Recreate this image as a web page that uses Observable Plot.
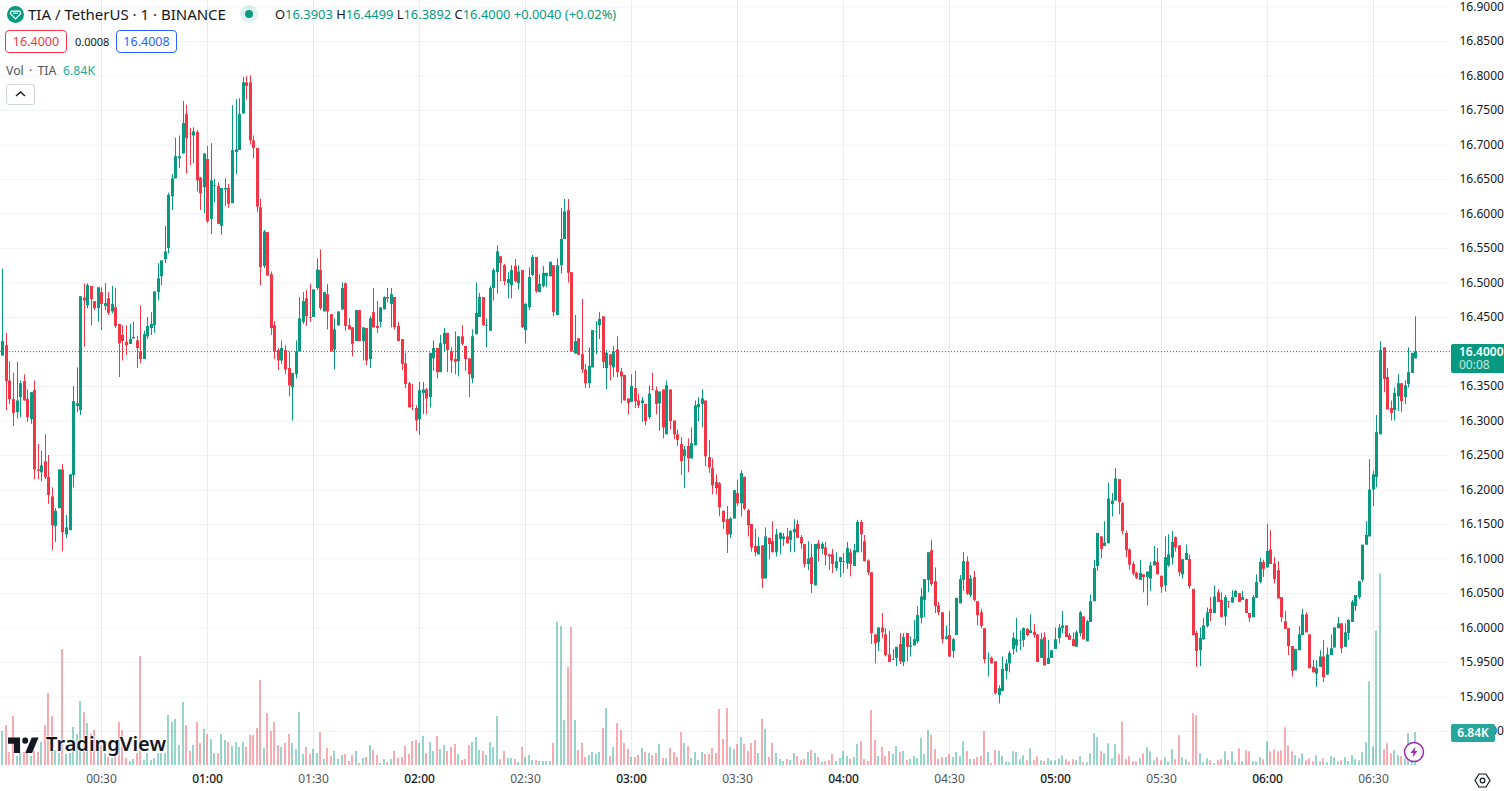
<!DOCTYPE html>
<html><head><meta charset="utf-8">
<script src="https://cdn.jsdelivr.net/npm/d3@7"></script>
<script src="https://cdn.jsdelivr.net/npm/@observablehq/plot@0.6"></script>
<style>
html,body{margin:0;padding:0;background:#fff;overflow:hidden}
body{font-family:"Noto Sans",sans-serif;color:#131722}
#wrap{position:relative;width:1504px;height:791px;overflow:hidden}
#wrap svg.plot{display:block;position:absolute;left:0;top:0}
.ov{position:absolute;white-space:nowrap;line-height:1}
.up{color:#089981}
.box{position:absolute;box-sizing:border-box;height:23px;top:30px;border:1px solid;border-radius:4px;font-size:12.5px;display:flex;align-items:center;justify-content:center;background:#fff}
</style></head><body><div id="wrap"></div>
<script>
const firstMinute = 2;
const opens = [
16.394,16.409,16.358,16.331,16.312,16.334,16.357,16.331,16.302,16.344,
16.229,16.225,16.241,16.218,16.19,16.147,16.173,16.229,16.135,16.141,
16.221,16.321,16.315,16.478,16.467,16.495,16.473,16.463,16.486,16.466,
16.477,16.458,16.464,16.44,16.424,16.414,16.411,16.419,16.416,16.40,
16.389,16.422,16.434,16.438,16.486,16.509,16.534,16.55,16.625,16.651,
16.68,16.687,16.744,16.716,16.713,16.718,16.652,16.638,16.679,16.592,
16.64,16.64,16.582,16.635,16.637,16.615,16.689,16.692,16.745,16.79,
16.79,16.706,16.695,16.609,16.524,16.573,16.512,16.438,16.402,16.387,
16.402,16.376,16.348,16.367,16.40,16.443,16.477,16.45,16.45,16.492,
16.518,16.458,16.483,16.454,16.403,16.438,16.461,16.499,16.438,16.435,
16.415,16.46,16.415,16.434,16.389,16.457,16.437,16.443,16.461,16.479,
16.469,16.479,16.437,16.418,16.383,16.354,16.322,16.318,16.302,16.34,
16.345,16.334,16.39,16.405,16.37,16.411,16.427,16.40,16.389,16.386,
16.422,16.408,16.39,16.361,16.425,16.45,16.479,16.437,16.43,16.492,
16.515,16.538,16.525,16.499,16.496,16.524,16.499,16.518,16.431,16.464,
16.511,16.537,16.486,16.495,16.509,16.509,16.525,16.453,16.525,16.563,
16.605,16.515,16.397,16.419,16.396,16.374,16.354,16.377,16.428,16.438,
16.451,16.376,16.396,16.377,16.403,16.371,16.366,16.332,16.327,16.347,
16.329,16.325,16.324,16.305,16.345,16.344,16.325,16.345,16.28,16.345,
16.30,16.28,16.266,16.248,16.263,16.245,16.264,16.319,16.324,16.329,
16.247,16.231,16.211,16.209,16.169,16.157,16.135,16.158,16.195,16.18,
16.218,16.17,16.15,16.118,16.106,16.119,16.071,16.13,16.125,16.109,
16.128,16.128,16.132,16.127,16.138,16.15,16.131,16.121,16.092,16.102,
16.061,16.122,16.114,16.116,16.106,16.106,16.086,16.095,16.095,16.093,
16.109,16.089,16.109,16.153,16.125,16.097,16.08,15.99,15.979,16.0,
15.99,15.961,15.953,15.956,15.976,15.95,15.992,15.972,15.974,15.98,
16.014,16.04,16.069,16.112,16.067,16.032,16.022,15.983,15.989,15.966,
15.989,16.035,16.069,16.096,16.047,16.073,16.038,16.022,15.999,15.955,
15.956,15.951,15.902,15.908,15.937,15.948,15.969,15.974,15.981,15.982,
15.998,15.992,15.994,15.99,15.956,15.986,15.947,15.956,15.969,15.985,
15.999,16.003,15.989,15.983,15.972,15.992,16.016,15.98,16.008,16.038,
16.089,16.132,16.118,16.122,16.179,16.184,16.215,16.18,16.137,16.113,
16.092,16.079,16.069,16.077,16.073,16.071,16.09,16.095,16.075,16.061,
16.09,16.101,16.131,16.119,16.077,16.098,16.099,16.056,15.992,15.967,
15.983,16.002,16.027,16.021,16.051,16.04,16.016,16.038,16.036,16.044,
16.05,16.04,16.041,16.021,16.015,16.043,16.066,16.095,16.087,16.113,
16.093,16.083,16.044,16.009,15.999,15.973,15.938,15.967,15.989,16.019,
15.99,15.943,15.933,15.943,15.958,15.932,15.96,15.971,15.999,16.006,
15.972,15.992,16.008,16.031,16.044,16.069,16.12,16.132,16.20,16.218,
16.28,16.406,16.363,16.318,16.315,16.335,16.354,16.334,16.353,16.369,16.39];
const closes = [
16.415,16.357,16.331,16.311,16.329,16.354,16.329,16.305,16.341,16.229,
16.227,16.235,16.218,16.192,16.148,16.169,16.229,16.138,16.145,16.222,
16.328,16.325,16.48,16.474,16.496,16.476,16.463,16.493,16.469,16.47,
16.456,16.469,16.437,16.412,16.415,16.409,16.418,16.421,16.405,16.389,
16.425,16.437,16.44,16.487,16.506,16.532,16.545,16.627,16.651,16.683,
16.683,16.731,16.709,16.715,16.719,16.648,16.629,16.687,16.589,16.648,
16.641,16.585,16.637,16.637,16.614,16.692,16.693,16.744,16.79,16.785,
16.706,16.695,16.61,16.522,16.574,16.51,16.434,16.40,16.387,16.405,
16.374,16.351,16.369,16.40,16.448,16.473,16.451,16.449,16.49,16.519,
16.463,16.486,16.458,16.40,16.432,16.458,16.492,16.437,16.432,16.411,
16.46,16.415,16.435,16.387,16.448,16.435,16.434,16.464,16.479,16.477,
16.483,16.435,16.415,16.382,16.353,16.319,16.321,16.30,16.344,16.345,
16.332,16.398,16.405,16.37,16.412,16.427,16.402,16.387,16.385,16.422,
16.411,16.389,16.367,16.422,16.456,16.479,16.438,16.438,16.492,16.518,
16.545,16.528,16.502,16.505,16.518,16.502,16.516,16.435,16.469,16.508,
16.537,16.487,16.498,16.514,16.514,16.53,16.457,16.525,16.563,16.603,
16.514,16.40,16.415,16.395,16.374,16.354,16.379,16.431,16.429,16.447,
16.385,16.398,16.38,16.40,16.37,16.364,16.329,16.325,16.35,16.328,
16.322,16.329,16.299,16.339,16.344,16.324,16.342,16.29,16.351,16.299,
16.28,16.272,16.241,16.258,16.245,16.267,16.322,16.324,16.332,16.248,
16.232,16.206,16.202,16.174,16.153,16.135,16.158,16.199,16.18,16.224,
16.172,16.148,16.116,16.109,16.118,16.071,16.132,16.121,16.109,16.135,
16.137,16.132,16.122,16.14,16.143,16.13,16.122,16.092,16.10,16.063,
16.121,16.114,16.121,16.105,16.103,16.092,16.096,16.102,16.096,16.115,
16.092,16.112,16.153,16.135,16.096,16.08,15.992,15.977,16.0,15.993,
15.96,15.95,15.954,15.972,15.951,15.986,15.972,15.974,15.983,16.018,
16.045,16.07,16.109,16.063,16.031,16.022,15.983,15.987,15.958,15.983,
16.043,16.07,16.096,16.049,16.071,16.04,16.018,16.002,15.954,15.956,
15.948,15.905,15.912,15.94,15.948,15.963,15.985,15.983,15.982,15.999,
15.989,15.996,15.989,15.95,15.983,15.945,15.956,15.967,15.983,16.0,
16.003,15.986,15.982,15.973,15.993,16.022,15.983,16.009,16.038,16.086,
16.137,16.114,16.123,16.187,16.184,16.216,16.182,16.14,16.112,16.091,
16.078,16.072,16.079,16.073,16.081,16.09,16.096,16.077,16.059,16.102,
16.106,16.124,16.116,16.08,16.099,16.108,16.06,15.989,15.966,15.985,
16.003,16.022,16.021,16.045,16.037,16.015,16.044,16.037,16.044,16.053,
16.037,16.044,16.021,16.014,16.044,16.066,16.095,16.085,16.111,16.092,
16.07,16.042,16.015,15.998,15.973,15.937,15.969,15.99,16.019,15.993,
15.941,15.935,15.941,15.958,15.928,15.961,15.97,16.0,16.006,15.97,
15.993,16.011,16.037,16.047,16.067,16.12,16.134,16.20,16.222,16.283,
16.402,16.36,16.316,16.311,16.34,16.354,16.328,16.351,16.37,16.398,16.40];
const highs = [
16.52,16.427,16.386,16.369,16.385,16.358,16.367,16.345,16.341,16.358,
16.266,16.256,16.28,16.25,16.203,16.173,16.229,16.237,16.163,16.222,
16.35,16.377,16.48,16.498,16.499,16.495,16.473,16.493,16.493,16.499,
16.486,16.495,16.492,16.44,16.438,16.438,16.44,16.443,16.422,16.467,
16.43,16.45,16.457,16.487,16.528,16.532,16.582,16.63,16.657,16.71,
16.713,16.763,16.758,16.724,16.725,16.721,16.653,16.687,16.698,16.702,
16.65,16.645,16.637,16.651,16.643,16.757,16.766,16.767,16.798,16.799,
16.80,16.713,16.695,16.621,16.576,16.573,16.516,16.444,16.405,16.416,
16.409,16.40,16.369,16.416,16.479,16.486,16.489,16.498,16.49,16.535,
16.548,16.486,16.498,16.454,16.448,16.458,16.50,16.50,16.448,16.435,
16.46,16.46,16.435,16.434,16.451,16.492,16.473,16.464,16.48,16.492,
16.492,16.479,16.443,16.418,16.398,16.356,16.353,16.322,16.356,16.356,
16.347,16.398,16.416,16.405,16.424,16.434,16.427,16.406,16.429,16.422,
16.438,16.408,16.39,16.432,16.50,16.485,16.479,16.448,16.495,16.521,
16.554,16.538,16.527,16.515,16.525,16.534,16.525,16.518,16.47,16.522,
16.54,16.537,16.512,16.524,16.514,16.53,16.525,16.535,16.608,16.621,
16.621,16.515,16.453,16.419,16.476,16.382,16.406,16.431,16.444,16.457,
16.451,16.402,16.396,16.408,16.422,16.376,16.366,16.332,16.367,16.372,
16.339,16.334,16.324,16.351,16.369,16.349,16.342,16.345,16.358,16.345,
16.30,16.287,16.276,16.263,16.274,16.29,16.329,16.334,16.345,16.329,
16.272,16.245,16.222,16.211,16.17,16.176,16.16,16.199,16.214,16.228,
16.219,16.172,16.15,16.143,16.131,16.119,16.145,16.13,16.154,16.143,
16.138,16.137,16.144,16.141,16.157,16.156,16.134,16.121,16.125,16.121,
16.121,16.127,16.124,16.124,16.106,16.114,16.109,16.102,16.108,16.124,
16.114,16.121,16.156,16.156,16.134,16.099,16.08,15.99,16.0,16.021,
15.999,15.995,15.969,15.972,15.992,15.992,15.992,15.987,16.011,16.031,
16.057,16.07,16.109,16.127,16.087,16.037,16.022,16.003,16.024,15.985,
16.043,16.076,16.109,16.103,16.076,16.082,16.038,16.027,15.999,15.964,
15.958,15.951,15.916,15.958,15.954,15.966,15.993,16.014,15.996,16.0,
15.999,16.019,16.005,15.99,15.992,15.993,15.982,15.967,16.0,16.005,
16.024,16.003,15.992,15.993,15.996,16.024,16.016,16.011,16.048,16.098,
16.137,16.132,16.154,16.21,16.195,16.231,16.215,16.182,16.14,16.115,
16.096,16.081,16.098,16.077,16.081,16.095,16.118,16.115,16.075,16.132,
16.135,16.14,16.132,16.119,16.099,16.12,16.106,16.056,15.995,16.0,
16.014,16.029,16.044,16.061,16.055,16.051,16.047,16.038,16.054,16.054,
16.05,16.053,16.042,16.021,16.047,16.077,16.101,16.098,16.15,16.141,
16.102,16.096,16.044,16.024,15.999,15.973,15.969,16.002,16.027,16.022,
15.99,15.953,15.953,15.967,15.982,15.971,15.99,16.0,16.015,16.006,
16.006,16.012,16.04,16.047,16.067,16.12,16.154,16.244,16.227,16.308,
16.415,16.406,16.376,16.329,16.348,16.367,16.354,16.358,16.406,16.398,16.451];
const lows = [
16.394,16.315,16.324,16.292,16.303,16.305,16.329,16.298,16.295,16.215,
16.215,16.212,16.215,16.179,16.112,16.124,16.173,16.11,16.13,16.141,
16.203,16.312,16.308,16.407,16.463,16.438,16.46,16.443,16.431,16.46,
16.453,16.455,16.434,16.363,16.387,16.395,16.411,16.419,16.376,16.383,
16.389,16.418,16.424,16.427,16.474,16.496,16.528,16.542,16.605,16.651,
16.666,16.687,16.658,16.67,16.673,16.632,16.605,16.60,16.586,16.57,
16.616,16.585,16.569,16.611,16.608,16.615,16.657,16.692,16.745,16.765,
16.70,16.68,16.602,16.496,16.521,16.51,16.424,16.389,16.373,16.382,
16.367,16.335,16.30,16.361,16.40,16.44,16.437,16.443,16.45,16.489,
16.46,16.458,16.432,16.40,16.374,16.437,16.46,16.43,16.432,16.393,
16.415,16.415,16.387,16.38,16.376,16.435,16.427,16.435,16.461,16.471,
16.435,16.432,16.415,16.373,16.347,16.319,16.315,16.285,16.279,16.309,
16.309,16.319,16.372,16.361,16.37,16.399,16.37,16.369,16.367,16.364,
16.409,16.372,16.334,16.354,16.425,16.45,16.438,16.406,16.43,16.474,
16.484,16.502,16.496,16.477,16.477,16.50,16.49,16.434,16.412,16.46,
16.509,16.485,16.486,16.493,16.493,16.509,16.451,16.453,16.513,16.563,
16.50,16.40,16.397,16.395,16.369,16.347,16.347,16.377,16.396,16.418,
16.376,16.345,16.358,16.363,16.363,16.325,16.329,16.309,16.327,16.318,
16.318,16.298,16.293,16.302,16.344,16.309,16.285,16.274,16.28,16.287,
16.273,16.263,16.221,16.202,16.225,16.245,16.264,16.299,16.29,16.234,
16.224,16.193,16.193,16.161,16.143,16.108,16.13,16.158,16.176,16.161,
16.17,16.132,16.11,16.103,16.106,16.057,16.071,16.099,16.109,16.103,
16.106,16.118,16.122,16.109,16.109,16.13,16.114,16.087,16.083,16.05,
16.061,16.096,16.106,16.09,16.083,16.079,16.082,16.073,16.079,16.085,
16.074,16.089,16.109,16.109,16.096,16.076,15.976,15.948,15.966,15.985,
15.958,15.95,15.953,15.944,15.947,15.944,15.951,15.958,15.974,15.977,
16.006,16.015,16.051,16.06,16.021,16.018,15.977,15.983,15.957,15.956,
15.989,16.035,16.053,16.047,16.044,16.038,16.003,15.999,15.948,15.929,
15.948,15.903,15.89,15.908,15.925,15.935,15.961,15.964,15.967,15.972,
15.987,15.992,15.985,15.95,15.956,15.945,15.947,15.956,15.969,15.977,
15.992,15.986,15.982,15.973,15.972,15.987,15.983,15.98,16.008,16.038,
16.082,16.10,16.118,16.122,16.161,16.184,16.164,16.135,16.102,16.084,
16.075,16.07,16.069,16.051,16.032,16.053,16.09,16.077,16.05,16.052,
16.088,16.091,16.11,16.074,16.071,16.098,16.056,15.989,15.943,15.944,
15.982,16.0,16.009,16.021,16.037,16.015,16.003,16.028,16.036,16.044,
16.037,16.04,16.021,16.008,16.015,16.043,16.064,16.073,16.087,16.092,
16.064,16.042,16.008,15.998,15.96,15.929,15.938,15.967,15.989,15.993,
15.941,15.935,15.914,15.943,15.921,15.931,15.96,15.971,15.999,15.963,
15.972,15.982,16.008,16.024,16.041,16.066,16.12,16.132,16.176,16.203,
16.28,16.341,16.316,16.30,16.30,16.314,16.312,16.324,16.348,16.369,16.39];
const volumesK = [
7.05,8.29,2.70,10.16,1.87,2.49,2.70,2.49,1.87,2.90,
2.70,4.77,8.29,14.93,10.16,3.11,2.49,24.05,2.28,2.49,
7.88,6.43,13.27,10.99,8.71,6.57,7.26,4.15,4.15,2.42,
1.73,1.45,2.07,8.91,7.26,1.45,0.83,1.24,2.49,22.6,
1.04,2.49,1.04,1.45,2.49,2.49,2.49,10.37,8.91,9.54,
4.15,13.06,8.29,2.90,4.15,8.91,4.56,7.46,6.43,5.39,
2.49,2.49,6.43,5.18,4.77,3.94,4.77,3.73,4.77,3.73,
6.22,6.22,7.67,17.62,3.52,10.78,7.05,8.91,4.15,3.73,
4.56,6.43,4.56,3.32,10.99,2.28,3.73,2.28,3.32,2.49,
6.84,1.24,3.52,1.87,2.90,1.24,2.07,2.28,0.83,2.07,
2.90,0.41,1.45,1.66,4.15,3.11,2.07,0.41,1.24,0.62,
1.24,2.90,1.45,1.66,3.94,2.28,4.98,5.18,4.56,6.01,
2.49,4.77,2.90,6.01,3.32,4.15,2.90,3.73,4.35,2.28,
1.04,1.24,4.15,4.77,5.81,3.11,2.90,2.07,4.77,3.73,
10.16,1.17,2.90,1.45,1.45,1.24,0.62,3.73,1.66,2.07,
1.04,1.04,0.83,0.83,0.83,0.83,4.56,29.65,28.82,9.33,
20.32,28.61,9.33,3.11,4.56,1.66,2.07,2.70,2.28,2.70,
7.67,11.82,1.87,3.73,8.71,7.26,4.56,3.32,1.66,1.66,
2.07,3.52,2.70,2.49,2.07,2.49,4.35,1.45,1.45,3.52,
2.70,1.66,6.84,4.56,3.94,1.45,2.70,1.04,2.70,2.28,
2.28,3.52,2.49,11.61,5.39,11.82,3.73,3.32,4.35,5.81,
4.35,2.90,4.56,5.18,2.49,9.54,7.46,1.66,4.56,2.49,
1.24,0.83,1.24,1.04,2.49,1.87,1.04,1.24,2.70,3.11,
2.49,1.66,0.62,0.83,1.04,2.28,0.83,1.45,2.90,1.87,
1.24,1.66,4.35,4.98,1.24,0.83,11.40,5.18,1.87,3.73,
1.87,2.90,2.28,3.94,2.70,2.90,1.04,1.24,1.87,1.45,
5.60,2.28,7.26,6.22,3.32,1.24,1.66,1.66,2.28,1.66,
2.70,1.87,4.98,2.90,1.24,1.24,1.66,1.87,7.05,2.70,
0.41,3.11,2.90,1.93,0.69,0.55,2.83,2.70,1.17,2.00,
0.97,3.46,0.97,1.80,0.97,0.76,1.38,0.97,0.97,1.38,
2.00,1.17,0.76,1.17,0.97,1.80,0.55,0.55,2.42,6.57,
5.74,2.83,2.42,4.49,1.38,4.28,2.21,9.05,1.17,1.80,
0.76,0.76,1.38,2.42,3.66,2.83,0.97,1.59,0.97,1.59,
0.76,3.25,1.17,6.15,1.59,1.17,0.55,10.71,10.30,2.42,
0.55,1.38,0.97,0.35,0.97,1.17,2.83,0.97,2.83,0.55,
3.46,0.76,3.04,2.83,0.76,0.76,1.59,1.17,4.91,2.83,
3.25,2.83,3.04,7.81,4.08,2.83,2.00,1.38,2.42,0.97,
1.38,0.76,2.00,0.76,1.38,0.55,1.80,1.59,0.76,0.97,
1.59,0.76,2.00,1.17,0.97,2.63,4.70,17.35,3.87,27.92,
39.74,3.25,4.49,2.42,3.04,2.00,1.80,1.38,6.57,0.97,6.84];
const halfHourTicks = [30,90,150,210,270,330,390];
const hourTicks = [60,120,180,240,300,360];
const priceGrid = [15.85,15.9,15.95,16,16.05,16.1,16.15,16.2,16.25,16.3,16.35,16.4,16.45,16.5,16.55,16.6,16.65,16.7,16.75,16.8,16.85,16.9];
const lastPrice = 16.40;
const priceLabels = priceGrid.filter(p => p !== lastPrice);

// volume pane shares the price scale: this is how much price one K of volume spans
const paneFloor = 15.8007, priceTop = 16.9094, pricePerK = 0.006986;
const minuteDomain = [1.32, 411.82];

if (new Set([opens.length,closes.length,highs.length,lows.length,volumesK.length]).size !== 1)
  throw new Error("len "+[opens.length,closes.length,highs.length,lows.length,volumesK.length]);

const bars = opens.map((o,i)=>({minute:firstMinute+i,o,c:closes[i],h:highs[i],l:lows[i],v:volumesK[i],
  dir:closes[i]>=o?"up":"down"}));
const hhmm = m => d3.format("02")(Math.floor(m/60))+":"+d3.format("02")(m%60);

const chart = Plot.plot({
  width:1504,height:791,marginLeft:0,marginRight:54,marginTop:0,marginBottom:26,
  style:{background:"transparent",fontFamily:'"Noto Sans",sans-serif'},
  x:{domain:minuteDomain,round:true},
  y:{domain:[paneFloor,priceTop]},
  color:{domain:["up","down"],range:["#089981","#f23645"]},
  marks:[
    Plot.gridY(priceGrid,{stroke:"#f0f3fa",strokeOpacity:1}),
    Plot.gridX(halfHourTicks.concat(hourTicks),{stroke:"#ebebef",strokeOpacity:1}),
    Plot.ruleX(bars,{x:"minute",y1:paneFloor,y2:d=>paneFloor+d.v*pricePerK,stroke:"dir",strokeOpacity:.42,strokeWidth:2,dx:-.5}),
    Plot.ruleX(bars,{x:"minute",y1:"l",y2:"h",stroke:"dir",strokeWidth:1}),
    Plot.ruleX(bars,{x:"minute",y1:"o",y2:"c",stroke:"dir",strokeWidth:3}),
    Plot.ruleY([lastPrice],{stroke:"#089981",strokeWidth:1,strokeDasharray:"1 2",dy:-.5}),
    Plot.axisY(priceLabels,{anchor:"right",tickSize:0,tickPadding:9,label:null,textAnchor:"start",
      tickFormat:d3.format(".4f"),fontSize:12,color:"#131722"}),
    Plot.axisX(halfHourTicks,{anchor:"bottom",tickSize:0,tickPadding:9,label:null,tickFormat:hhmm,fontSize:12,color:"#50535e"}),
    Plot.axisX(hourTicks,{anchor:"bottom",tickSize:0,tickPadding:9,label:null,tickFormat:hhmm,fontSize:12,fontWeight:500,color:"#131722"})
  ]
});
const wrap = document.getElementById("wrap");
wrap.appendChild(chart);
wrap.insertAdjacentHTML("beforeend",`
<svg class="ov" style="left:7px;top:6px" width="17" height="17" viewBox="0 0 17 17"><circle cx="8.5" cy="8.5" r="8.5" fill="#089981"/><path d="M4.3 5.2h8.4l1.1 2.2-5.3 5.4-5.3-5.4z" fill="none" stroke="#fff" stroke-width="1.2"/><path d="M6 7.2h5" stroke="#fff" stroke-width="1.2"/></svg>
<div class="ov" style="left:28px;top:7px;font-size:15px">TIA / TetherUS · 1 · BINANCE</div>
<svg class="ov" style="left:240px;top:5px" width="18" height="18"><circle cx="9" cy="9" r="9" fill="#089981" opacity=".13"/><circle cx="9" cy="9" r="4" fill="#089981"/></svg>
<div class="ov" style="left:275px;top:8px;font-size:12.9px">O<span class="up">16.3903</span> H<span class="up">16.4499</span> L<span class="up">16.3892</span> C<span class="up">16.4000</span> <span class="up">+0.0040 (+0.02%)</span></div>
<div class="box" style="left:5px;width:62px;border-color:#f23645;color:#f23645">16.4000</div>
<div class="ov" style="left:75px;top:36px;font-size:11px">0.0008</div>
<div class="box" style="left:116px;width:61px;border-color:#2962ff;color:#2962ff">16.4008</div>
<div class="ov" style="left:6px;top:65px;font-size:12.3px;word-spacing:2px;color:#50535e">Vol · TIA</div>
<div class="ov" style="left:63px;top:65px;font-size:12.3px;color:#22ab94">6.84K</div>
<div class="ov" style="left:6px;top:84px;width:29px;height:21px;box-sizing:border-box;border:1px solid #d1d4dc;border-radius:3px;background:#fff"><svg width="27" height="19"><path d="M9 11l4.500-4 4.500 4" fill="none" stroke="#131722" stroke-width="1.400"/></svg></div>
<div class="ov" style="left:1451px;top:344px;width:53px;height:29px;background:#089981;border-radius:2px 0 0 2px;color:#fff;font-size:12px;font-weight:600"><div style="position:absolute;left:8px;top:1px;line-height:14px">16.4000</div><div style="position:absolute;left:8px;top:14px;line-height:14px;font-weight:400;opacity:.75">00:08</div></div>
<div class="ov" style="left:1451px;top:724px;width:44px;height:18px;background:#26a69a;border-radius:2px;color:#fff;font-size:12px;font-weight:600;text-align:center;line-height:18px">6.84K</div>
<svg class="ov" style="left:8px;top:735px" width="31" height="19" viewBox="0 0 36 22"><path d="M14 21H7V10H0V3h14zM28 21h-8l7.500-18h8z" fill="#131722"/><circle cx="20" cy="6.500" r="3.500" fill="#131722"/></svg>
<div class="ov" style="left:46px;top:734px;font-size:20px;font-weight:600;color:#131722;text-shadow:0 0 2px #fff,0 0 2px #fff,0 0 3px #fff">TradingView</div>
<svg class="ov" style="left:1403px;top:741px" width="22" height="22"><circle cx="11" cy="11" r="9.500" fill="#fff" stroke="#9c27b0" stroke-width="1.500"/><path d="M12.500 5.500L7.500 12h3l-1 4.500 5-6.500h-3z" fill="#9c27b0"/></svg>
<svg class="ov" style="left:1474px;top:772px" width="17" height="17"><path d="M5 2h7l4 6.500-4 6.500H5L1 8.500z" fill="none" stroke="#131722" stroke-width="1.200"/><circle cx="8.500" cy="8.500" r="2.300" fill="none" stroke="#131722" stroke-width="1.200"/></svg>
`);
</script></body></html>
